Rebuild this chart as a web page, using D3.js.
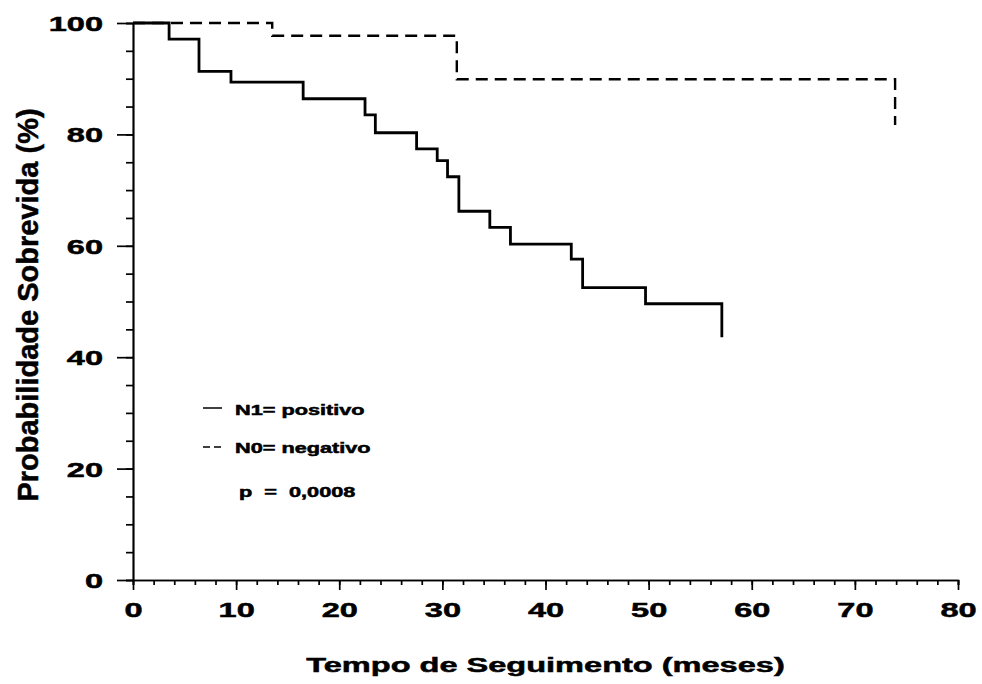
<!DOCTYPE html>
<html>
<head>
<meta charset="utf-8">
<script src="https://d3js.org/d3.v7.min.js"></script>
<style>
  body { margin: 0; background: #fff; }
  text { font-family: "Liberation Sans", Arial, sans-serif; font-weight: bold; fill: #000; stroke: #000; stroke-width: 0.5px; }
</style>
</head>
<body>
<div id="chart"></div>
<script>
// survival curves (time in months, survival %)
var n1Times = [0, 3.5, 6.4, 9.5, 16.5, 22.5, 23.5, 27.5, 29.5, 30.5, 31.6, 34.6, 36.6, 42.5, 43.6, 49.7, 57.1];
var n1Values = [100, 97.1, 91.3, 89.4, 86.4, 83.5, 80.3, 77.4, 75.3, 72.4, 66.2, 63.3, 60.3, 57.6, 52.5, 49.6, 43.6];
var n0Times = [0, 13.5, 31.4, 73.9];
var n0Values = [100, 97.7, 89.9, 81.7];

var xTicks = [0, 10, 20, 30, 40, 50, 60, 70, 80];
var yTicks = [0, 20, 40, 60, 80, 100];
var legendLabels = ["N1= positivo", "N0= negativo"];
var pLabel = "p  =  0,0008";

// the scanned lettering is wide, so stretch text horizontally
var stretch = 1.55;

var margin = { top: 23, right: 24, bottom: 104, left: 133 },
    width = 982 - margin.left - margin.right,
    height = 684 - margin.top - margin.bottom;

var svg = d3.select("#chart")
    .append("svg")
    .attr("width", 982)
    .attr("height", 684)
    .append("g")
    .attr("transform", "translate(" + margin.left + "," + margin.top + ")");

var x = d3.scaleLinear().domain([0, 80]).range([0, width]);
var y = d3.scaleLinear().domain([0, 100]).range([height, 0]);

//////////
// AXES //
//////////

// minor ticks first
svg.append("g")
    .attr("class", "minor")
    .attr("transform", "translate(0," + height + ")")
    .call(d3.axisBottom(x).tickValues(d3.range(0, 81, 2)).tickSize(5).tickFormat(""));
svg.append("g")
    .attr("class", "minor")
    .call(d3.axisLeft(y).tickValues(d3.range(0, 101, 5)).tickSize(7).tickFormat(""));

var xAxis = svg.append("g")
    .attr("transform", "translate(0," + height + ")")
    .call(d3.axisBottom(x).tickValues(xTicks).tickSize(10).tickSizeOuter(0));
xAxis.selectAll(".tick text")
    .attr("y", 37)
    .attr("dy", 0)
    .attr("transform", "scale(" + stretch + ",1)")
    .style("font-size", "21px");

var yAxis = svg.append("g")
    .call(d3.axisLeft(y).tickValues(yTicks).tickSize(16).tickSizeOuter(0));
yAxis.selectAll(".tick text")
    .attr("x", -30 / stretch)
    .attr("dy", "0.36em")
    .attr("transform", "scale(" + stretch + ",1)")
    .style("font-size", "21px");

svg.selectAll(".domain, .tick line")
    .attr("stroke", "#000")
    .attr("stroke-width", 1.7);

// axis titles
svg.append("text")
    .attr("text-anchor", "middle")
    .attr("transform", "translate(" + (width / 2) + "," + (height + 92) + ") scale(" + stretch + ",1)")
    .style("font-size", "21px")
    .text("Tempo de Seguimento (meses)");

svg.append("text")
    .attr("text-anchor", "middle")
    .attr("transform", "translate(" + (38 - margin.left) + "," + (305 - margin.top) + ") rotate(-90)")
    .style("font-size", "29px")
    .text("Probabilidade Sobrevida (%)");

////////////
// CURVES //
////////////

var line = d3.line()
    .x(function (d) { return x(d[0]); })
    .y(function (d) { return y(d[1]); })
    .curve(d3.curveStepAfter);

var n1 = n1Times.map(function (t, i) { return [t, n1Values[i]]; });
var n0 = n0Times.map(function (t, i) { return [t, n0Values[i]]; });

svg.append("path")
    .datum(n0)
    .attr("fill", "none")
    .attr("stroke", "#000")
    .attr("stroke-width", 2.4)
    .attr("stroke-dasharray", "12,7")
    .attr("d", line);

svg.append("path")
    .datum(n1)
    .attr("fill", "none")
    .attr("stroke", "#000")
    .attr("stroke-width", 2.8)
    .attr("d", line);

////////////
// LEGEND //
////////////

var legend = svg.append("g")
    .attr("transform", "translate(" + (203 - margin.left) + "," + (408 - margin.top) + ")");

legend.selectAll("line")
    .data(legendLabels)
    .enter()
    .append("line")
    .attr("x1", 0)
    .attr("x2", 19)
    .attr("y1", function (d, i) { return i * 39; })
    .attr("y2", function (d, i) { return i * 39; })
    .attr("stroke", "#000")
    .attr("stroke-width", 1.5)
    .attr("stroke-dasharray", function (d, i) { return i ? "7,4" : null; });

legend.selectAll("text")
    .data(legendLabels)
    .enter()
    .append("text")
    .attr("transform", function (d, i) { return "translate(32," + (7 + i * 38) + ") scale(" + stretch + ",1)"; })
    .style("font-size", "14px")
    .text(function (d) { return d; });

legend.append("text")
    .attr("transform", "translate(36,89) scale(" + stretch + ",1)")
    .style("font-size", "14px")
    .style("white-space", "pre")
    .attr("xml:space", "preserve")
    .text(pLabel);
</script>
</body>
</html>
